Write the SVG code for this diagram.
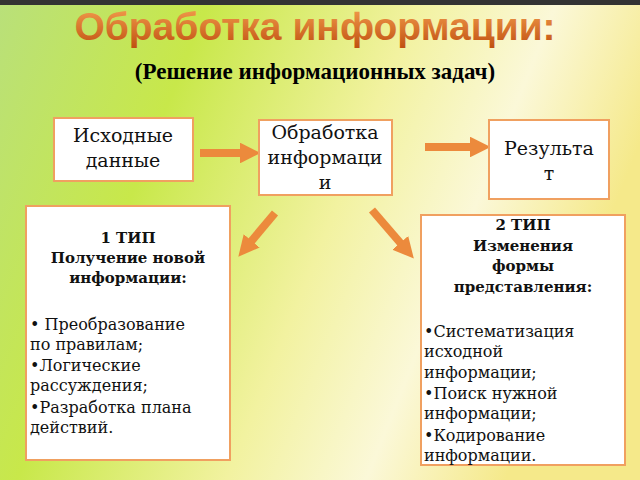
<svg xmlns="http://www.w3.org/2000/svg" width="640" height="480" viewBox="0 0 640 480">
<defs>
<linearGradient id="bg" x1="0" y1="0" x2="1" y2="0.3">
<stop offset="0" stop-color="#b9e07a"/><stop offset="0.3" stop-color="#c8e84a"/><stop offset="0.6" stop-color="#f2f2a0"/><stop offset="0.8" stop-color="#fbf8d8"/><stop offset="1" stop-color="#f5e98a"/>
</linearGradient>
<linearGradient id="tt" x1="0" y1="0" x2="0" y2="1"><stop offset="0" stop-color="#f5a050"/><stop offset="1" stop-color="#c05010"/></linearGradient>
<marker id="ah" viewBox="0 0 10 10" refX="2" refY="5" markerWidth="2.6" markerHeight="2.6" orient="auto"><path d="M0,0 L10,5 L0,10 z" fill="#ec8a3c"/></marker>
</defs>
<style>
.box{fill:#fff;stroke:#f0a060;stroke-width:2}
.t{font-family:"DejaVu Serif",serif;font-size:16px;fill:#111}
.h{font-size:19px}
.b{font-weight:bold;font-size:15px}
.ar{stroke:#ec8a3c;stroke-width:8;fill:none;marker-end:url(#ah)}
</style>
<rect width="640" height="480" fill="url(#bg)"/>
<rect width="640" height="5" fill="#333"/>
<text x="315" y="40" text-anchor="middle" font-family="Liberation Sans,sans-serif" font-weight="bold" font-size="39" fill="url(#tt)">Обработка информации:</text>
<text x="315" y="79" text-anchor="middle" font-family="Liberation Serif,serif" font-weight="bold" font-size="23" fill="#000">(Решение информационных задач)</text>
<g id="connectors">
<line class="ar" x1="200" y1="153" x2="244" y2="153"/>
<line class="ar" x1="425" y1="147" x2="474" y2="147"/>
<line class="ar" x1="275" y1="213" x2="249" y2="244"/>
<line class="ar" x1="372" y1="210" x2="403" y2="246"/>
</g>
<g id="n1"><rect class="box" x="54" y="118" width="139" height="63"/>
<text class="t h" x="123" y="142" text-anchor="middle">Исходные</text><text class="t h" x="123" y="167" text-anchor="middle">данные</text></g>
<g id="n2"><rect class="box" x="259" y="120" width="133" height="75"/>
<text class="t h" x="325" y="139" text-anchor="middle">Обработка</text><text class="t h" x="325" y="164" text-anchor="middle">информаци</text><text class="t h" x="325" y="189" text-anchor="middle">и</text></g>
<g id="n3"><rect class="box" x="489" y="120" width="120" height="79"/>
<text class="t h" x="549" y="155" text-anchor="middle">Результа</text><text class="t h" x="549" y="180" text-anchor="middle">т</text></g>
<g id="n4"><rect class="box" x="26" y="206" width="204" height="254"/>
<text class="t b" x="128" y="243" text-anchor="middle">1 ТИП</text>
<text class="t b" x="128" y="263" text-anchor="middle">Получение новой</text>
<text class="t b" x="128" y="283" text-anchor="middle">информации:</text>
<text class="t" x="30" y="330">• Преобразование</text>
<text class="t" x="30" y="350">по правилам;</text>
<text class="t" x="30" y="371">•Логические</text>
<text class="t" x="30" y="391">рассуждения;</text>
<text class="t" x="30" y="413">•Разработка плана</text>
<text class="t" x="30" y="433">действий.</text></g>
<g id="n5"><rect class="box" x="421" y="215" width="204" height="250"/>
<text class="t b" x="523" y="230" text-anchor="middle">2 ТИП</text>
<text class="t b" x="523" y="251" text-anchor="middle">Изменения</text>
<text class="t b" x="523" y="271" text-anchor="middle">формы</text>
<text class="t b" x="523" y="292" text-anchor="middle">представления:</text>
<text class="t" x="424" y="337">•Систематизация</text>
<text class="t" x="424" y="357">исходной</text>
<text class="t" x="424" y="378">информации;</text>
<text class="t" x="424" y="399">•Поиск нужной</text>
<text class="t" x="424" y="419">информации;</text>
<text class="t" x="424" y="441">•Кодирование</text>
<text class="t" x="424" y="461">информации.</text></g>
</svg>
